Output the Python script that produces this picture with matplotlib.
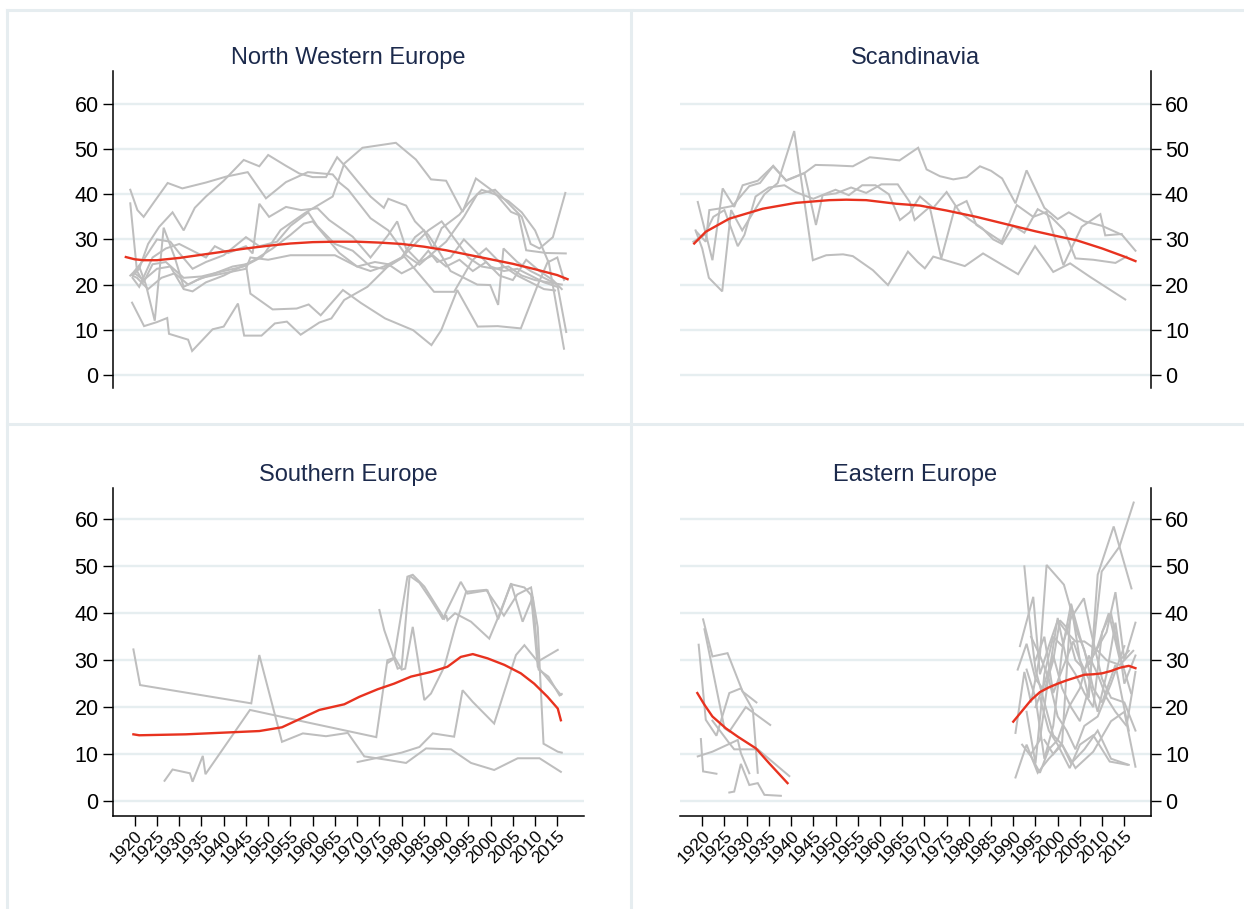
import matplotlib
matplotlib.use("Agg")
import matplotlib.pyplot as plt
from matplotlib.lines import Line2D

plt.rcParams['font.family'] = ['Liberation Sans', 'DejaVu Sans']

# ----- data: each series is (years, values) -----

nwe_lines = [
    ([1919, 1920.6, 1922, 1924.5, 1927.4, 1930.7, 1936, 1940.5, 1945.4, 1949.5, 1954, 1958.9, 1964.5, 1966, 1968,
      1973, 1977, 1981, 1984, 1987, 1990, 1994, 1997, 2001, 2004, 2007, 2009, 2011, 2014, 2016.8],
     [41.0, 36.5, 35, 38.5, 42.5, 41.3, 42.6, 43.9, 44.9, 39.1, 42.7, 44.9, 44.4, 42.6, 41,
      34.7, 32, 26.5, 24.4, 27, 29.5, 35, 40, 41, 38, 35, 29, 28, 30.5, 40.3]),
    ([1919.5, 1921, 1923, 1925.5, 1928.5, 1931, 1933.5, 1936, 1940, 1944.5, 1948, 1950, 1954, 1957, 1960, 1963,
      1965.5, 1967.5, 1970, 1973, 1976, 1977, 1981, 1983, 1986, 1988, 1991, 1994, 1997, 1999.9, 2001.7, 2002.9,
      2006, 2009, 2012, 2015, 2017],
     [22, 23.5, 29, 32.8, 36, 32, 37, 39.5, 43, 47.6, 46.2, 48.7, 46.3, 44.6, 43.8, 43.8,
      48.2, 46, 43, 39.5, 37, 39, 37.5, 34, 31, 28, 23, 21.5, 20, 19.9, 15.5, 28,
      25, 23, 21.5, 20, 9.5]),
    ([1919, 1920.5, 1922, 1924, 1927, 1931, 1935, 1940, 1944.5, 1948.7, 1952.8, 1958.2, 1964.5, 1967.1, 1971.2,
      1978.7, 1983.2, 1986.6, 1990, 1993.7, 1996.7, 2000.8, 2004.6, 2006.3, 2008, 2012.5, 2016.9],
     [38, 23, 20.5, 24.5, 25, 21.5, 21.8, 23, 24, 26.2, 32.1, 35.8, 39.5, 46.8, 50.3,
      51.4, 47.7, 43.3, 43, 36.1, 43.5, 40.5, 36.1, 35.4, 27.6, 27, 26.9]),
    ([1919.4, 1922.1, 1925, 1927.3, 1927.7, 1932, 1932.9, 1937.5, 1940, 1943.2, 1944.6, 1948.5, 1951.5, 1954.2,
      1957.3, 1961.5, 1964.2, 1967.1, 1972.3, 1976.8, 1980.6, 1987.3, 1991.8, 1995.9, 1999, 2003, 2006, 2009,
      2012, 2014.5],
     [16, 10.8, 11.7, 12.6, 9.1, 7.8, 5.3, 10.1, 10.7, 15.8, 8.7, 8.7, 11.4, 11.8,
      8.9, 11.6, 12.5, 16.6, 19.5, 23.9, 26.2, 18.4, 18.4, 25.4, 28, 24, 22, 20.5,
      19, 18.7]),
    ([1919, 1921, 1922.5, 1924.5, 1926.5, 1929, 1931, 1934, 1938, 1942, 1945, 1946, 1951, 1956.4, 1959.1, 1961.8,
      1966.8, 1970.9, 1976.3, 1982.6, 1986.7, 1988.9, 1992.5, 1997.1, 2001.6, 2006.8, 2010.6, 2013, 2016.5],
     [22, 24, 20, 12, 32.6, 26, 19.5, 21, 22.5, 24, 24.5, 18, 14.5, 14.7, 15.6, 13.2,
      18.8, 15.9, 12.5, 9.9, 6.6, 9.9, 18.8, 10.7, 10.8, 10.3, 19.9, 25.4, 5.8]),
    ([1919.5, 1920.5, 1923, 1926, 1929, 1932, 1935, 1940, 1945, 1946, 1950, 1955, 1960, 1965, 1970, 1973, 1976,
      1980, 1983, 1986, 1989, 1992, 1995, 1998, 2001, 2004, 2007, 2010, 2013, 2016],
     [22, 21.5, 19, 21.5, 22.5, 20, 21.5, 22.5, 23.5, 26, 25.5, 26.5, 26.5, 26.5, 24, 23, 24,
      26, 29, 32, 34, 30, 26, 24, 23.5, 24, 22, 21, 20.5, 20]),
    ([1920, 1922, 1925, 1928, 1930, 1933, 1936, 1940, 1945, 1948, 1952, 1955, 1959, 1961, 1965, 1969, 1973, 1976,
      1980, 1983, 1985, 1987, 1989, 1991, 1993, 1995, 1998, 2001, 2004, 2007, 2010, 2013, 2015, 2016.5],
     [23, 25.5, 30, 29.5, 27, 23.5, 25, 26.5, 30.5, 28.5, 29.5, 33, 36, 33, 29, 27.5, 24, 23.5,
      26, 30.5, 32, 28, 32.5, 34, 35.5, 38, 41, 40, 38.5, 36, 32, 25, 26, 21]),
    ([1919.5, 1921, 1924, 1927, 1930, 1933, 1936, 1938, 1941, 1945, 1946.5, 1948, 1950.2, 1954, 1957.4, 1961.1,
      1963.7, 1969, 1973, 1977, 1979, 1981, 1984, 1987, 1990, 1993, 1996, 1999, 2002, 2005, 2008, 2011, 2014, 2016],
     [21.5, 19.5, 26, 28, 29, 27.5, 26, 28.5, 27, 28.5, 26.9, 37.9, 35, 37.2, 36.5, 36.9,
      34.3, 30.6, 26, 31, 34, 28, 25, 26.5, 24, 25.5, 23, 25, 22, 21, 25.5, 23, 21, 19]),
    ([1920, 1922, 1925, 1928, 1931, 1933, 1936, 1940, 1945, 1947, 1951, 1955, 1958, 1960, 1963, 1966, 1970, 1974,
      1977, 1980, 1983, 1986, 1988, 1991, 1994, 1997, 2000, 2003, 2006, 2009, 2012, 2015],
     [22.5, 21, 23.5, 24, 19, 18.5, 20.5, 22, 24.5, 25.5, 28, 31, 33.5, 34, 30.5, 27, 24, 25,
      24.5, 22.5, 24, 27.5, 25, 26, 30, 27, 24, 23, 23.5, 22, 20.5, 19.5]),
]
nwe_fit_years = [1918, 1920, 1922, 1925, 1930, 1935, 1940, 1945, 1950, 1955, 1960, 1965, 1970, 1975, 1980,
                 1985, 1990, 1995, 2000, 2005, 2010, 2015, 2017.3]
nwe_fit_vals = [26.1, 25.6, 25.4, 25.4, 25.9, 26.6, 27.3, 28.0, 28.6, 29.1, 29.4, 29.5, 29.5, 29.3, 29.0,
                28.4, 27.6, 26.6, 25.6, 24.6, 23.4, 22.1, 21.2]

scan_lines = [
    ([1918.7, 1920.8, 1921.6, 1924.2, 1926.8, 1930.6, 1933, 1936, 1938.9, 1943, 1945.5, 1949.4, 1953.9, 1957.7,
      1960.7, 1964.4, 1968.6, 1970.5, 1973.5, 1976.5, 1979.5, 1982.5, 1985, 1987.5, 1990.5, 1993, 1997, 2000,
      2002.5, 2006, 2010, 2014.5, 2017.5],
     [31.7, 29.5, 36.5, 36.9, 37.4, 41.8, 42.5, 46.3, 43, 44.7, 46.5, 46.4, 46.2, 48.2,
      47.9, 47.5, 50.3, 45.5, 44, 43.3, 43.8, 46.2, 45.2, 43.5, 38, 45.3, 37, 34.5,
      36, 34, 33, 31, 27.5]),
    ([1919, 1922.3, 1924.6, 1927.2, 1929.1, 1932.5, 1935.9, 1938.9, 1943, 1945.6, 1947.1, 1950.1, 1953.5, 1956.9,
      1960.3, 1964, 1966.7, 1967.8, 1971.2, 1973.8, 1976.9, 1979.5, 1981.7, 1987.4, 1990.8, 1994.5, 1997.5,
      2001.3, 2005.4, 2009.6, 2010.7, 2014.4],
     [38.3, 25.4, 41.3, 37.2, 42, 43, 46.2, 43.1, 44.7, 33.2, 39.8, 40.2, 41.5, 40.3,
      42.2, 42.2, 38.3, 34.3, 37.2, 25.8, 37.2, 38.5, 33.2, 29.5, 37.6, 35, 36.1,
      24.3, 32.8, 35.6, 30.9, 31.2]),
    ([1918.5, 1920, 1921.5, 1924.5, 1926.5, 1929, 1931.5, 1934, 1937, 1940.7, 1944.9, 1947.9, 1951.7, 1953.9,
      1958.4, 1961.8, 1966.3, 1968.5, 1970.1, 1972, 1979.1, 1983.2, 1991.1, 1994.9, 1999, 2002.8, 2007.3, 2015.2],
     [32, 28, 21.5, 18.5, 36.5, 32, 36, 40, 42.5, 54, 25.4, 26.5, 26.7, 26.3,
      23.2, 19.9, 27.3, 25, 23.6, 26.2, 24.1, 26.9, 22.3, 28.5, 22.8, 24.7, 21.7, 16.7]),
    ([1918, 1920.5, 1922.5, 1925, 1928, 1929.5, 1932, 1935, 1938.5, 1941, 1945, 1947.5, 1950, 1953, 1956, 1959,
      1962, 1964.5, 1966.7, 1969, 1972, 1975, 1978, 1980, 1983, 1985.5, 1987.5, 1990, 1992.5, 1995.5, 1998.5,
      2001.5, 2004, 2008, 2013, 2015.5],
     [29.5, 31, 35, 36.5, 28.5, 31, 39.5, 41.5, 42, 40.5, 39, 40, 41, 39.8, 42, 42,
      40, 34.3, 36, 39.5, 37, 40.5, 36, 34.5, 32.5, 30, 29, 33, 31.5, 36.7, 35,
      32, 25.8, 25.5, 24.8, 26.2]),
]
scan_fit_years = [1918.2, 1920.8, 1926.1, 1933.6, 1941.1, 1948.6, 1952.4, 1956.9, 1963.7, 1969, 1975, 1981.7,
                  1990, 1995, 2000, 2004.3, 2010, 2015, 2017.5]
scan_fit_vals = [29.1, 31.7, 34.6, 36.8, 38.1, 38.7, 38.8, 38.7, 37.9, 37.5, 36.4, 35.0,
                 33.0, 31.8, 30.7, 29.8, 28.0, 26.2, 25.2]

south_lines = [
    ([1919.7, 1921.2, 1946.2, 1948, 1953.1, 1957.8, 1963, 1967.9, 1971.6, 1976.5, 1981, 1985.5, 1991.1, 1995.6,
      2000.8, 2006.1, 2011, 2015.8],
     [32.3, 24.7, 20.8, 31.1, 12.6, 14.4, 13.8, 14.5, 9.5, 8.8, 8.1, 11.2, 11, 8.1,
      6.6, 9.1, 9.1, 6.2]),
    ([1926.7, 1928.5, 1932.4, 1933, 1935.3, 1935.9, 1945.9, 1960, 1974.3, 1976.8, 1978.3, 1981.3, 1982.5, 1985.1,
      1989.6, 1990, 1990.3, 1992, 1995.6, 1999.7, 2001.6, 2004.6, 2007.6, 2009.1, 2010.6, 2015.8],
     [4.3, 6.7, 5.9, 4.1, 9.6, 5.7, 19.4, 16.5, 13.6, 30, 30.5, 47.8, 48.2, 45.7,
      38.9, 39.6, 38.5, 40, 38.2, 34.6, 38.9, 46.2, 45.5, 43.9, 28.6, 22.6]),
    ([1975, 1976.1, 1979.1, 1980, 1981.8, 1984, 1986.5, 1988.5, 1989.3, 1990, 1993.3, 1994.8, 1999.3, 2001.7,
      2004.6, 2007.2, 2009.5, 2010.8, 2013, 2015.5, 2016],
     [40.7, 36.4, 28.2, 28.5, 48, 46.5, 43, 40, 38.7, 40.3, 46.7, 44.2, 44.9, 38.7,
      46.4, 38.2, 43.5, 28, 26.5, 22.5, 22.8]),
    ([1977, 1978.5, 1980, 1980.8, 1982.5, 1985.1, 1986.6, 1989.6, 1992, 1994.5, 1999, 2003, 2006, 2009.1,
      2010.6, 2011.9, 2015.1, 2016],
     [29.5, 30.5, 28, 28.2, 37.1, 21.5, 22.9, 28.6, 37, 44.6, 45, 39.5, 44, 45.5,
      37, 12.2, 10.5, 10.3]),
    ([1970.1, 1976.1, 1980, 1984, 1987, 1991.8, 1993.7, 1996, 2000.8, 2005.7, 2007.6, 2010.6, 2015.1],
     [8.3, 9.5, 10.3, 11.5, 14.4, 13.7, 23.6, 21.1, 16.5, 31.1, 33.2, 29.7, 32.2]),
]
south_fit_years = [1919.7, 1921, 1931.5, 1948, 1953.1, 1961.5, 1967.1, 1970.5, 1974.6, 1978.3, 1982.1, 1986.6,
                   1990.3, 1993.3, 1996, 1999.3, 2003.1, 2006.8, 2009.8, 2012.8, 2015.1, 2015.8]
south_fit_vals = [14.2, 14.0, 14.2, 14.9, 15.7, 19.4, 20.6, 22.2, 23.8, 25.0, 26.5, 27.5,
                  28.6, 30.7, 31.3, 30.4, 29.0, 27.2, 25.0, 22.2, 19.7, 17.2]

east_lines = [
    ([1920.2, 1922.3, 1925.7, 1929.1, 1932.2], [38.7, 30.8, 31.5, 23.3, 21]),
    ([1920.5, 1925, 1926.1, 1929.8, 1935.3], [36.6, 15.5, 14.8, 20, 16.2]),
    ([1919.2, 1920.8, 1923.2, 1926.1, 1928.7, 1931.4, 1932.5], [33.3, 17.3, 13.9, 23, 24, 19.4, 6]),
    ([1919, 1922.3, 1928, 1928.7, 1930.6], [9.5, 10.5, 13, 10.2, 5.9]),
    ([1919.7, 1920.2, 1923.2], [13.2, 6.3, 5.8]),
    ([1926.1, 1927.2, 1928.7, 1930.6, 1932.5, 1934, 1937.7], [1.8, 2, 7.9, 3.4, 3.8, 1.3, 1.1]),
    ([1922.3, 1926.1, 1927.2, 1932.5, 1939.6], [17.1, 12.3, 11, 11, 5.3]),
    ([1990.5, 1993, 1995.5, 1998, 2001, 2004, 2008, 2012, 2015, 2017.5],
     [5, 12, 6, 9, 12, 7, 10.5, 17, 19, 7.3]),
    ([1991.5, 1993.5, 1994.5, 1996, 1998, 2000, 2002, 2004, 2006, 2009, 2011, 2014, 2017],
     [33, 40, 43.5, 27, 33, 38.5, 36, 34, 34, 32, 30, 29, 32]),
    ([1992.5, 1993.5, 1995, 1997, 1999, 2001, 2003, 2006, 2009, 2012, 2016],
     [50, 40, 28, 21, 14, 12, 8, 11, 15, 9, 7.7]),
    ([1990.5, 1992.5, 1994, 1996, 1997.5, 2001.4, 2004.5, 2006, 2008, 2010, 2013, 2016],
     [14.5, 27.5, 21, 31, 50.3, 46.1, 35.7, 32.2, 24, 21, 29, 15]),
    ([1991, 1993, 1995, 1997, 1999, 2000.5, 2002, 2004, 2006, 2008, 2011, 2013, 2015, 2017.5],
     [28, 33.5, 26, 23.5, 30, 38.5, 37, 30, 28, 31, 36, 44.5, 30, 38]),
    ([1992, 1994, 1996, 1998, 2000, 2002.5, 2005, 2007, 2009, 2011, 2013, 2015.5, 2017.5],
     [12, 9.5, 6, 11, 13, 20, 24, 31, 27, 22, 19, 16, 27.5]),
    ([1993, 1995, 1997, 1999, 2001, 2003, 2005, 2007, 2009, 2011.5, 2014, 2016],
     [28, 22, 9, 16, 32, 42, 35, 29, 33, 40, 30, 32]),
    ([1994, 1996, 1998, 2000, 2002, 2004, 2006, 2008, 2010, 2012, 2014, 2016.5],
     [10, 13, 27, 39, 30, 27, 23, 20, 36, 40, 31, 23]),
    ([1995, 1997, 1999, 2001, 2003.5, 2005, 2007, 2009, 2012.6, 2016.6],
     [30, 35, 23, 28, 34, 30, 22, 48.2, 58.5, 45.3]),
    ([1995, 1997, 1999, 2001, 2003, 2005, 2007, 2009.9, 2013.9, 2017.1],
     [20, 25, 31, 24, 20, 17, 24, 48.9, 54.2, 63.6]),
    ([1993, 1995, 1997, 1999, 2001, 2003, 2005.9, 2007.5, 2010, 2012, 2015, 2017.5],
     [19, 8, 27, 35, 33, 39, 43.2, 36, 26, 22, 21, 15]),
    ([1996, 1998, 2000, 2002.7, 2005, 2008, 2011.7, 2015.7],
     [22, 15, 12, 7, 12, 14, 8.4, 7.7]),
    ([1994, 1996, 1998, 2000, 2002, 2004, 2006, 2009, 2012, 2015],
     [35, 31, 26, 18, 15, 11, 16, 18, 25, 33]),
    ([1997, 1999, 2001, 2003, 2005, 2007, 2009, 2011, 2013, 2015, 2017.5],
     [13, 10, 12.5, 42, 30, 26, 19, 27, 38, 25, 31]),
]
east_fit_early_years = [1918.9, 1920.5, 1922.3, 1925.3, 1928, 1932.1, 1935.1, 1939.2]
east_fit_early_vals = [23, 20.5, 18, 15.5, 13.7, 11.2, 8, 3.8]
east_fit_late_years = [1990, 1992, 1994, 1996, 1998, 2000, 2002, 2004, 2006, 2008, 2010, 2012, 2014, 2016,
                       2017.5]
east_fit_late_vals = [16.9, 19.2, 21.5, 23.2, 24.2, 25.0, 25.7, 26.3, 26.9, 27.0, 27.2, 27.7, 28.4, 28.8, 28.3]

panel_titles = ["North Western Europe", "Scandinavia", "Southern Europe", "Eastern Europe"]
year_ticks = list(range(1920, 2016, 5))
y_ticks = [0, 10, 20, 30, 40, 50, 60]

# ----- figure -----
W, H = 1244, 909
fig = plt.figure(figsize=(W / 100, H / 100), dpi=100)

GRAY = '#bebebe'
RED = '#e8321f'
GRID = '#e6eef0'
FRAME = '#e6edf0'
TITLE = '#1c2a4c'


def px_axes(x0, x1, y0, y1):
    """axes from pixel box (top-left origin)"""
    return fig.add_axes([x0 / W, 1 - y1 / H, (x1 - x0) / W, (y1 - y0) / H])


# panel frames
for (xa, ya, xb, yb) in [(7, 10, W, 10), (7, 10, 7, H), (631, 10, 631, H), (7, 424, W, 424)]:
    fig.add_artist(Line2D([xa / W, xb / W], [1 - ya / H, 1 - yb / H], color=FRAME, lw=2.2,
                          transform=fig.transFigure))

ax_nw = px_axes(112.5, 584, 71, 388)
ax_sc = px_axes(680, 1151, 71, 388)
ax_so = px_axes(112.5, 584, 488, 815.5)
ax_ea = px_axes(680, 1151, 488, 815.5)

panels = [
    (ax_nw, nwe_lines, [(nwe_fit_years, nwe_fit_vals)], 'left', False, (-2.9, 67.3)),
    (ax_sc, scan_lines, [(scan_fit_years, scan_fit_vals)], 'right', False, (-2.9, 67.3)),
    (ax_so, south_lines, [(south_fit_years, south_fit_vals)], 'left', True, (-3.1, 66.7)),
    (ax_ea, east_lines, [(east_fit_early_years, east_fit_early_vals),
                         (east_fit_late_years, east_fit_late_vals)], 'right', True, (-3.1, 66.7)),
]

for i, (ax, lines, fits, side, show_x, ylim) in enumerate(panels):
    for yrs, vals in lines:
        ax.plot(yrs, vals, color=GRAY, lw=1.45, solid_joinstyle='miter', zorder=2)
    for yrs, vals in fits:
        ax.plot(yrs, vals, color=RED, lw=1.7, zorder=3)

    ax.set_xlim(1915, 2021)
    ax.set_ylim(*ylim)
    ax.set_yticks(y_ticks)
    ax.set_axisbelow(True)
    ax.grid(axis='y', color=GRID, lw=1.7)

    for s in ['top', 'left', 'right', 'bottom']:
        ax.spines[s].set_visible(False)
    ax.spines[side].set_visible(True)
    ax.spines[side].set_linewidth(1.1)
    if side == 'right':
        ax.yaxis.tick_right()
    ax.tick_params(axis='y', length=7, width=1.0, labelsize=15.5, pad=3)

    if show_x:
        ax.spines['bottom'].set_visible(True)
        ax.spines['bottom'].set_linewidth(1.1)
        ax.set_xticks(year_ticks)
        ax.set_xticklabels([str(y) for y in year_ticks], rotation=45, ha='right', rotation_mode='anchor')
        ax.tick_params(axis='x', length=7, width=1.0, labelsize=12.5, pad=2)
    else:
        ax.set_xticks([])

    ax.set_title(panel_titles[i], fontsize=17, color=TITLE, pad=5)

fig.savefig("out.png", dpi=100, facecolor='white')
